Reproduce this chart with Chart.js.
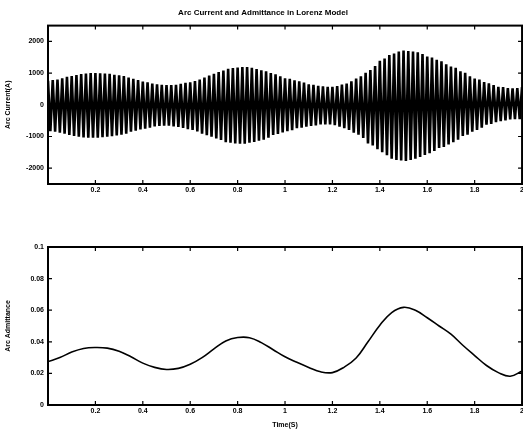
<!DOCTYPE html>
<html lang="en">
<head>
  <meta charset="UTF-8">
  <title>Arc Current and Admittance in Lorenz Model</title>
  <script src="https://cdn.jsdelivr.net/npm/chart.js"></script>
  <style>
    html, body {
      margin: 0;
      padding: 0;
      background: #ffffff;
      overflow: hidden;
      width: 523px;
      height: 429px;
    }
    .panel {
      position: absolute;
      left: 0;
    }
    #topPanel { top: 0; width: 526px; height: 205px; }
    #bottomPanel { top: 230px; width: 526px; height: 199px; }
  </style>
</head>
<body>

  <div class="panel" id="topPanel"><canvas id="currentChart"></canvas></div>
  <div class="panel" id="bottomPanel"><canvas id="admChart"></canvas></div>

  <script>
    // Arc current samples (one value every 0.01 s, alternating crest / trough)
    const currentStep = 0.01;
    const currentValues = [
      760, -830, 780, -850, 800,  -880, 840, -910, 880, -950,
      910, -985, 940, -1010, 970,  -1030, 990, -1040, 1000, -1040,
      1000, -1035, 995, -1020, 990,  -1010, 975, -990, 950, -965,
      930, -940, 910, -910, 860,  -850, 820, -820, 780, -780,
      730, -750, 710, -720, 670,  -680, 650, -670, 630, -660,
      620, -660, 620, -680, 630,  -700, 660, -730, 690, -770,
      710, -790, 750, -840, 800,  -910, 860, -960, 920, -1010,
      980, -1060, 1030, -1110, 1080,  -1180, 1140, -1200, 1160, -1220,
      1180, -1230, 1190, -1230, 1190,  -1200, 1170, -1170, 1130, -1130,
      1090, -1100, 1060, -1040, 1000,  -950, 960, -920, 900, -870,
      840, -830, 820, -800, 770,  -740, 740, -720, 700, -690,
      650, -670, 630, -650, 600,  -620, 580, -620, 570, -620,
      570, -640, 590, -690, 640,  -740, 670, -790, 740, -880,
      830, -940, 900, -1050, 1010,  -1220, 1100, -1280, 1220, -1400,
      1390, -1500, 1460, -1590, 1570,  -1700, 1620, -1740, 1680, -1760,
      1710, -1770, 1700, -1740, 1680,  -1700, 1660, -1650, 1600, -1580,
      1520, -1530, 1490, -1460, 1420,  -1360, 1370, -1330, 1280, -1250,
      1210, -1180, 1170, -1100, 1060,  -980, 1010, -940, 900, -850,
      830, -790, 800, -720, 720,  -630, 680, -600, 620, -550,
      570, -520, 560, -490, 530,  -460, 520, -455, 530, -450,
      560
    ];

    // Arc admittance
    const admTime = [
      0, 0.05, 0.1, 0.15, 0.2, 0.25, 0.3, 0.35, 0.4, 0.45,
      0.5, 0.55, 0.6, 0.65, 0.7, 0.75, 0.8, 0.85, 0.9, 0.95,
      1.0, 1.05, 1.1, 1.15, 1.2, 1.25, 1.3, 1.35, 1.4, 1.45,
      1.5, 1.55, 1.6, 1.65, 1.7, 1.75, 1.8, 1.85, 1.9, 1.95, 2.0
    ];
    const admValues = [
      0.0275, 0.030, 0.0335, 0.0358, 0.0364, 0.036, 0.034, 0.0305, 0.0265, 0.0238,
      0.0225, 0.0232, 0.0258, 0.030, 0.0355, 0.0405, 0.0427, 0.0426, 0.0395, 0.035,
      0.0305, 0.027, 0.0238, 0.021, 0.0205, 0.024, 0.0297, 0.040, 0.0505, 0.0585,
      0.0618, 0.060, 0.0552, 0.050, 0.0448, 0.0378, 0.0313, 0.025, 0.0205, 0.0182,
      0.0215
    ];

    // Tick values
    const timeTicks = [0.2, 0.4, 0.6, 0.8, 1, 1.2, 1.4, 1.6, 1.8, 2];
    const currentTicks = [-2000, -1000, 0, 1000, 2000];
    const admTicks = [0, 0.02, 0.04, 0.06, 0.08, 0.1];

    const titleText = 'Arc Current and Admittance in Lorenz Model';
    const FONT = 'Liberation Sans, Arial, sans-serif';

    // MATLAB-like box with inward ticks on all four sides
    const boxTicks = {
      id: 'boxTicks',
      afterDraw(chart) {
        const { ctx, chartArea: a, scales } = chart;
        ctx.save();
        ctx.strokeStyle = '#000';
        ctx.lineWidth = 2;
        ctx.strokeRect(a.left, a.top, a.right - a.left, a.bottom - a.top);
        ctx.lineWidth = 1.2;
        const len = 4;
        scales.x.ticks.forEach((t, i) => {
          const px = scales.x.getPixelForTick(i);
          ctx.beginPath();
          ctx.moveTo(px, a.bottom); ctx.lineTo(px, a.bottom - len);
          ctx.moveTo(px, a.top); ctx.lineTo(px, a.top + len);
          ctx.stroke();
        });
        scales.y.ticks.forEach((t, i) => {
          const py = scales.y.getPixelForTick(i);
          ctx.beginPath();
          ctx.moveTo(a.left, py); ctx.lineTo(a.left + len, py);
          ctx.moveTo(a.right, py); ctx.lineTo(a.right - len, py);
          ctx.stroke();
        });
        ctx.restore();
      }
    };

    function xScale(height, withTitle) {
      return {
        type: 'linear',
        min: 0,
        max: 2,
        afterBuildTicks(scale) { scale.ticks = timeTicks.map(v => ({ value: v })); },
        ticks: {
          color: '#000',
          padding: 2,
          maxRotation: 0,
          autoSkip: false,
          font: { family: FONT, size: 7, weight: 'bold' },
          callback: v => String(v)
        },
        grid: { display: false, drawTicks: false },
        border: { display: false },
        title: {
          display: withTitle,
          text: 'Time(S)',
          color: '#000',
          padding: { top: 0, bottom: 0 },
          font: { family: FONT, size: 7, weight: 'bold' }
        },
        afterFit(scale) { scale.height = height; }
      };
    }

    function yScale(min, max, tickVals, label) {
      return {
        min: min,
        max: max,
        afterBuildTicks(scale) { scale.ticks = tickVals.map(v => ({ value: v })); },
        ticks: {
          color: '#000',
          padding: 4,
          autoSkip: false,
          font: { family: FONT, size: 7, weight: 'bold' },
          callback: v => String(v)
        },
        grid: { display: false, drawTicks: false },
        border: { display: false },
        title: {
          display: true,
          text: label,
          color: '#000',
          padding: { top: 4, bottom: 0 },
          font: { family: FONT, size: 7, weight: 'bold' }
        },
        afterFit(scale) { scale.width = 48; }
      };
    }

    // Top: arc current
    new Chart(document.getElementById('currentChart'), {
      type: 'line',
      data: {
        datasets: [{
          data: currentValues.map((v, i) => ({ x: i * currentStep, y: v })),
          borderColor: '#000',
          borderWidth: 2.6,
          pointRadius: 0,
          tension: 0
        }]
      },
      options: {
        responsive: true,
        maintainAspectRatio: false,
        animation: false,
        devicePixelRatio: 1,
        layout: { padding: 0 },
        plugins: {
          legend: { display: false },
          tooltip: { enabled: false },
          title: {
            display: true,
            text: titleText,
            color: '#000',
            font: { family: FONT, size: 8, weight: 'bold' },
            padding: { top: 8, bottom: 8 }
          }
        },
        scales: {
          x: xScale(21, false),
          y: yScale(-2500, 2500, currentTicks, 'Arc Current(A)')
        }
      },
      plugins: [boxTicks]
    });

    // Bottom: arc admittance
    new Chart(document.getElementById('admChart'), {
      type: 'line',
      data: {
        datasets: [{
          data: admTime.map((t, i) => ({ x: t, y: admValues[i] })),
          borderColor: '#000',
          borderWidth: 1.6,
          pointRadius: 0,
          tension: 0.4
        }]
      },
      options: {
        responsive: true,
        maintainAspectRatio: false,
        animation: false,
        devicePixelRatio: 1,
        layout: { padding: { top: 17 } },
        plugins: {
          legend: { display: false },
          tooltip: { enabled: false }
        },
        scales: {
          x: xScale(24, true),
          y: yScale(0, 0.1, admTicks, 'Arc Admittance')
        }
      },
      plugins: [boxTicks]
    });
  </script>

</body>
</html>
